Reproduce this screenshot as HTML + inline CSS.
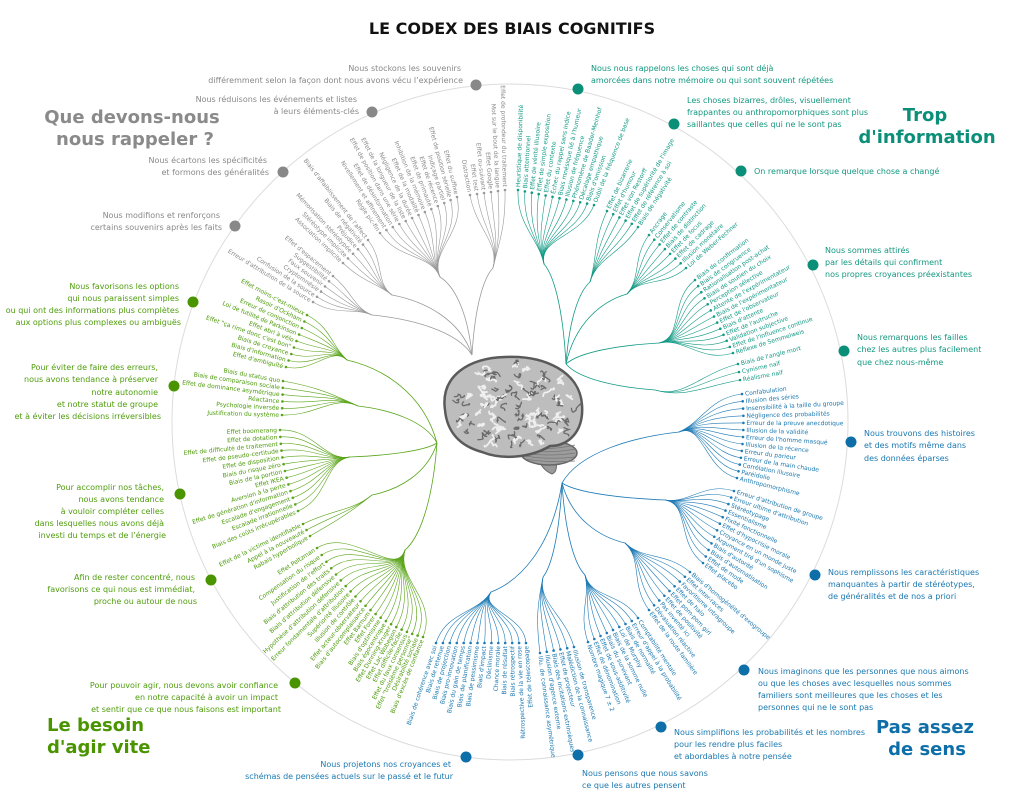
<!DOCTYPE html>
<html><head><meta charset="utf-8">
<style>
html,body{margin:0;padding:0;background:#fff;}
svg{display:block;font-family:"DejaVu Sans","Liberation Sans",sans-serif;}
.t{font-size:8px;}
.h{font-size:18px;font-weight:bold;}
</style></head>
<body>
<svg id="s" width="1024" height="808" viewBox="0 0 1024 808" xmlns="http://www.w3.org/2000/svg">
<rect width="1024" height="808" fill="#fff"/>
<text x="512" y="34" text-anchor="middle" font-size="16" font-weight="bold" fill="#111">LE CODEX DES BIAIS COGNITIFS</text>
<circle cx="510" cy="422" r="338" fill="none" stroke="#dcdcdc" stroke-width="1"/>
<g id="br"></g>
<g id="lines" fill="none" stroke-width="0.8"></g>
<g id="leaf" font-size="6"></g>

<!-- gray -->
<g fill="#888" class="t" text-anchor="end">
<text x="461" y="71">Nous stockons les souvenirs</text>
<text x="463" y="83">différemment selon la façon dont nous avons vécu l’expérience</text>
<text x="357" y="102">Nous réduisons les événements et listes</text>
<text x="359" y="114">à leurs éléments-clés</text>
<text x="267" y="163">Nous écartons les spécificités</text>
<text x="269" y="175">et formons des généralités</text>
<text x="220" y="218">Nous modifions et renforçons</text>
<text x="222" y="230">certains souvenirs après les faits</text>
</g>
<g fill="#8a8a8a" class="h" text-anchor="middle">
<text x="132" y="123">Que devons-nous</text>
<text x="135" y="145">nous rappeler ?</text>
</g>
<g fill="#888"><circle cx="476" cy="85" r="5.5"/><circle cx="372" cy="112" r="5.5"/><circle cx="283" cy="172" r="5.5"/><circle cx="235" cy="226" r="5.5"/></g>

<!-- green -->
<g fill="#4f9d0c" class="t" text-anchor="end">
<text x="179" y="289">Nous favorisons les options</text>
<text x="179" y="301">qui nous paraissent simples</text>
<text x="179" y="313">ou qui ont des informations plus complètes</text>
<text x="181" y="325">aux options plus complexes ou ambiguës</text>
<text x="158" y="370">Pour éviter de faire des erreurs,</text>
<text x="158" y="382">nous avons tendance à préserver</text>
<text x="158" y="395">notre autonomie</text>
<text x="158" y="407">et notre statut de groupe</text>
<text x="161" y="419">et à éviter les décisions irréversibles</text>
<text x="164" y="490">Pour accomplir nos tâches,</text>
<text x="164" y="502">nous avons tendance</text>
<text x="164" y="514">à vouloir compléter celles</text>
<text x="164" y="526">dans lesquelles nous avons déjà</text>
<text x="166" y="538">investi du temps et de l’énergie</text>
<text x="195" y="580">Afin de rester concentré, nous</text>
<text x="195" y="592">favorisons ce qui nous est immédiat,</text>
<text x="197" y="604">proche ou autour de nous</text>
<text x="278" y="688">Pour pouvoir agir, nous devons avoir confiance</text>
<text x="278" y="700">en notre capacité à avoir un impact</text>
<text x="281" y="712">et sentir que ce que nous faisons est important</text>
</g>
<g fill="#4a9400" class="h">
<text x="47" y="731">Le besoin</text>
<text x="47" y="753">d'agir vite</text>
</g>
<g fill="#4a9400"><circle cx="193" cy="302" r="5.5"/><circle cx="174" cy="386" r="5.5"/><circle cx="180" cy="494" r="5.5"/><circle cx="211" cy="580" r="5.5"/><circle cx="295" cy="683" r="5.5"/></g>

<!-- blue -->
<g fill="#1a78b0" class="t">
<text x="451" y="767" text-anchor="end">Nous projetons nos croyances et</text>
<text x="453" y="779" text-anchor="end">schémas de pensées actuels sur le passé et le futur</text>
<text x="582" y="776">Nous pensons que nous savons</text>
<text x="582" y="788">ce que les autres pensent</text>
<text x="674" y="735">Nous simplifions les probabilités et les nombres</text>
<text x="674" y="747">pour les rendre plus faciles</text>
<text x="674" y="759">et abordables à notre pensée</text>
<text x="758" y="674">Nous imaginons que les personnes que nous aimons</text>
<text x="758" y="686">ou que les choses avec lesquelles nous sommes</text>
<text x="758" y="698">familiers sont meilleures que les choses et les</text>
<text x="758" y="710">personnes qui ne le sont pas</text>
<text x="828" y="575">Nous remplissons les caractéristiques</text>
<text x="828" y="587">manquantes à partir de stéréotypes,</text>
<text x="828" y="599">de généralités et de nos a priori</text>
<text x="864" y="436">Nous trouvons des histoires</text>
<text x="864" y="448">et des motifs même dans</text>
<text x="864" y="461">des données éparses</text>
</g>
<g fill="#0e6fa8" class="h" text-anchor="middle">
<text x="925" y="733">Pas assez</text>
<text x="927" y="755">de sens</text>
</g>
<g fill="#0e6fa8"><circle cx="466" cy="757" r="5.5"/><circle cx="578" cy="755" r="5.5"/><circle cx="661" cy="727" r="5.5"/><circle cx="744" cy="670" r="5.5"/><circle cx="815" cy="575" r="5.5"/><circle cx="851" cy="442" r="5.5"/></g>

<!-- teal -->
<g fill="#13977f" class="t">
<text x="591" y="71">Nous nous rappelons les choses qui sont déjà</text>
<text x="591" y="83">amorcées dans notre mémoire ou qui sont souvent répétées</text>
<text x="687" y="103">Les choses bizarres, drôles, visuellement</text>
<text x="687" y="115">frappantes ou anthropomorphiques sont plus</text>
<text x="687" y="127">saillantes que celles qui ne le sont pas</text>
<text x="754" y="174">On remarque lorsque quelque chose a changé</text>
<text x="825" y="253">Nous sommes attirés</text>
<text x="825" y="265">par les détails qui confirment</text>
<text x="825" y="277">nos propres croyances préexistantes</text>
<text x="857" y="340">Nous remarquons les failles</text>
<text x="857" y="352">chez les autres plus facilement</text>
<text x="857" y="365">que chez nous-même</text>
</g>
<g fill="#0c8f78" class="h" text-anchor="middle">
<text x="925" y="121">Trop</text>
<text x="927" y="143">d'information</text>
</g>
<g fill="#0c8f78"><circle cx="578" cy="89" r="5.5"/><circle cx="674" cy="124" r="5.5"/><circle cx="741" cy="171" r="5.5"/><circle cx="813" cy="265" r="5.5"/><circle cx="844" cy="351" r="5.5"/></g>
</svg>
<script>
(function(){
var NS="http://www.w3.org/2000/svg";
function el(t,a,p,txt){var e=document.createElementNS(NS,t);for(var k in a)e.setAttribute(k,a[k]);if(txt!==undefined)e.textContent=txt;p.appendChild(e);return e;}
var CX=510,CY=422;
var GR="#9a9a9a",GN="#5aa51a",BL="#1d7ab5",TL="#139a85";
var GRT="#888",GNT="#4c9a0a",BLT="#1a78b0",TLT="#139a85";
var C=[
{c:GR,tc:GRT,s:'L',root:[472,355],hub:[493,268],a:[470,195],b:[505,190],L:["Distraction","Effet test","Effet ou-suivant","Effet Google","Mot sur le bout de la langue","Effet de profondeur du traitement"]},
{c:GR,tc:GRT,s:'L',root:[472,355],hub:[440,277],a:[457,197],b:[380,233],L:["Effet du suffixe","Effet de position sérielle","Indiçage partiel","Effet de récence","Effet de primauté","Inhibition de la mémoire","Effet de la modalité","Négligence de la durée","Effet de la longueur de la liste","Effet de position dans une série","Effet de désinformation","Nivellement et affinement","Règle pic-fin"]},
{c:GR,tc:GRT,s:'L',root:[472,355],hub:[392,295],a:[368,240],b:[343,263],L:["Biais d'affaiblissement de l'affect","Biais de négativité","Préjudice","Mémorisation stéréotypée","Stéréotype implicite","Association implicite"]},
{c:GR,tc:GRT,s:'L',root:[472,355],hub:[372,315],a:[333,276],b:[313,302],L:["Effet d'espacement","Suggestibilité","Faux souvenir","Cryptomnésie","Confusion de la source","Erreur d'attribution de la source"]},
{c:GN,tc:GNT,s:'L',root:[437,443],hub:[347,360],a:[307,315],b:[286,367],L:["Effet moins-c'est-mieux","Rasoir d'Ockham","Erreur de conjonction","Loi de futilité de Parkinson","Effet abri à vélo","Effet \"ça rime donc c'est bon\"","Biais de croyance","Biais d'information","Effet d'ambiguïté"]},
{c:GN,tc:GNT,s:'L',root:[437,443],hub:[358,406],a:[283,381],b:[282,415],L:["Biais du status quo","Biais de comparaison sociale","Effet de dominance asymétrique","Réactance","Psychologie inversée","Justification du système"]},
{c:GN,tc:GNT,s:'L',root:[437,443],hub:[350,457],a:[280,430],b:[298,511],m:[285,471],L:["Effet boomerang","Effet de dotation","Effet de difficulté de traitement","Effet de pseudo-certitude","Effet de disposition","Biais du risque zéro","Biais de la portion","Effet IKEA","Aversion à la perte","Effet de génération d'information","Escalade d'engagement","Escalade irrationnelle","Biais des coûts irrécupérables"]},
{c:GN,tc:GNT,s:'L',root:[437,443],hub:[372,495],a:[303,524],b:[310,536],L:["Effet de la victime identifiable","Appel à la nouveauté","Rabais hyperbolique"]},
{c:GN,tc:GNT,s:'L',root:[437,443],hub:[405,550],a:[317,548],b:[423,637],m:[368,608],L:["Effet Peltzman","Compensation du risque","Justification de l'effort","Biais d'attribution des traits","Biais d'attribution défensive","Hypothèse d'attribution défensive","Erreur fondamentale d'attribution","Supériorité illusoire","Illusion de contrôle","Effet acteur-observateur","Biais d'autocomplaisance","Effet Barnum","Effet Forer","Biais d'optimisme","Biais égocentrique","Effet Dunning-Kruger","Effet Lac Wobegon","Effet difficile-facile","Effet du faux consensus","Effet \"troisième personne\"","Désirabilité sociale","Biais d'excès de confiance"]},
{c:BL,tc:BLT,s:'L',root:[562,483],hub:[491,592],a:[436,643],b:[526,643],L:["Biais de cohérence avec soi","Biais de retenue","Biais de projection","Biais pro-innovation","Biais du gain de temps","Biais de planification","Biais de pessimisme","Biais d'impact","Déclinisme","Chance morale","Biais de résultat","Biais rétrospectif","Rétrospective de la vie en rose","Effet de télescopage"]},
{c:BL,tc:BLT,s:'R',root:[562,483],hub:[543,577],a:[540,653],b:[574,647],L:["Illu. de connaissance asymétrique","Illusion d'agence externe","Biais des incitations extrinsèques","Effet de projecteur","Malédiction de la connaissance","Illusion de transparence"]},
{c:BL,tc:BLT,s:'R',root:[562,483],hub:[585,575],a:[588,642],b:[638,618],L:["Nombre magique 7 ± 2","Effet de dénomination","Effet de sous-additivité","Biais du survivant","Biais de la somme nulle","Loi de Murphy","Biais de normalité","Erreur d'appel à la probabilité","Comptabilité mentale"]},
{c:BL,tc:BLT,s:'R',root:[562,483],hub:[625,543],a:[649,610],b:[690,572],L:["Effet de la route familière","Dévaluation réactive","Pas inventé ici","Effet de positivité","Effet pom-pom girl","Effet de halo","Favoritisme intragroupe","Effet inter-races","Biais d'homogénéité d'exogroupe"]},
{c:BL,tc:BLT,s:'R',root:[562,483],hub:[665,500],a:[703,563],b:[734,491],L:["Effet placebo","Effet de mode","Biais d'automatisation","Biais d'autorité","Argument tiré d'un sophisme","Croyance en un monde juste","Effet d'hypocrisie morale","Fixité fonctionnelle","Essentialisme","Stéréotypage","Erreur ultime d'attribution","Erreur d'attribution de groupe"]},
{c:BL,tc:BLT,s:'R',root:[562,483],hub:[679,432],a:[742,394],b:[737,478],m:[743,437],L:["Confabulation","Illusion des séries","Insensibilité à la taille du groupe","Négligence des probabilités","Erreur de la preuve anecdotique","Illusion de la validité","Erreur de l'homme masqué","Illusion de la récence","Erreur du parieur","Erreur de la main chaude","Corrélation illusoire","Paréidolie","Anthropomorphisme"]},
{c:TL,tc:TLT,s:'R',root:[566,364],hub:[544,264],a:[518,190],b:[594,205],L:["Heuristique de disponibilité","Biais attentionnel","Effet de vérité illusoire","Effet de simple exposition","Effet du contexte","Échec du rappel sans indice","Biais mnésique lié à l'humeur","Illusion de fréquence","Phénomène de Baader-Meinhof","Décalage empathique","Biais d'omission","Oubli de la fréquence de base"]},
{c:TL,tc:TLT,s:'R',root:[566,364],hub:[590,282],a:[607,211],b:[638,227],L:["Effet de bizarrerie","Effet d'humour","Effet von Restorff","Effet de supériorité de l'image","Effet de référence à soi","Biais de négativité"]},
{c:TL,tc:TLT,s:'R',root:[566,364],hub:[627,294],a:[649,235],b:[686,268],L:["Ancrage","Conservatisme","Effet de contraste","Biais de distinction","Effet de focus","Effet de cadrage","Illusion monétaire","Loi de Weber-Fechner"]},
{c:TL,tc:TLT,s:'R',root:[566,364],hub:[659,343],a:[695,280],b:[733,353],L:["Biais de confirmation","Biais de congruence","Rationalisation post-achat","Biais de soutien du choix","Perception sélective","Attente de l'expérimentateur","Biais de l'expérimentateur","Effet de l'observateur","Biais d'attente","Effet de l'autruche","Validation subjective","Effet de l'influence continue","Réflexe de Semmelweis"]},
{c:TL,tc:TLT,s:'R',root:[566,364],hub:[655,390],a:[738,364],b:[740,380],L:["Biais de l'angle mort","Cynisme naïf","Réalisme naïf"]}
];
var LG=document.getElementById("lines"),TG=document.getElementById("leaf");
function f(n){return n.toFixed(1);}
C.forEach(function(k){
 var r=k.root,h=k.hub,n=k.L.length;
 el("path",{d:"M"+r[0]+","+r[1]+" C"+f(r[0]+(h[0]-r[0])*0.15)+","+f(r[1]+(h[1]-r[1])*0.6)+" "+f(r[0]+(h[0]-r[0])*0.6)+","+f(r[1]+(h[1]-r[1])*0.9)+" "+h[0]+","+h[1],stroke:k.c},LG);
 var dx=h[0]-r[0],dy=h[1]-r[1],dl=Math.sqrt(dx*dx+dy*dy)||1;dx/=dl;dy/=dl;
 for(var i=0;i<n;i++){
  var t=n>1?i/(n-1):0,x,y;
  if(k.m){var a=k.a,b=k.b,m=k.m;
   x=(1-t)*(1-t)*a[0]+2*t*(1-t)*(2*m[0]-(a[0]+b[0])/2)+t*t*b[0];
   y=(1-t)*(1-t)*a[1]+2*t*(1-t)*(2*m[1]-(a[1]+b[1])/2)+t*t*b[1];
  } else {x=k.a[0]+(k.b[0]-k.a[0])*t;y=k.a[1]+(k.b[1]-k.a[1])*t;}
  var th=Math.atan2(y-CY,x-CX),ux=Math.cos(th),uy=Math.sin(th);
  var L=Math.sqrt((x-h[0])*(x-h[0])+(y-h[1])*(y-h[1]));
  el("path",{d:"M"+h[0]+","+h[1]+" C"+f(h[0]+dx*L*0.35)+","+f(h[1]+dy*L*0.35)+" "+f(x-ux*L*0.45)+","+f(y-uy*L*0.45)+" "+f(x)+","+f(y),stroke:k.c,"stroke-width":"0.6"},LG);
  el("circle",{cx:f(x),cy:f(y),r:"1.3",fill:k.c},TG);
  var deg=th*180/Math.PI,rot,anc,ox;
  if(k.s=='R'){rot=deg;anc="start";ox=3;}else{rot=deg+180;anc="end";ox=-3;}
  el("text",{transform:"translate("+f(x)+","+f(y)+") rotate("+f(rot)+")",x:ox,y:2,"text-anchor":anc,fill:k.tc},TG,k.L[i]);
 }
});
// brain
var B=document.getElementById("br");
el("path",{d:"M538,458 q4,12 14,16 q6,-2 4,-14z",fill:"#9a9a9a",stroke:"#666"},B);
el("ellipse",{cx:549,cy:453,rx:28,ry:12,fill:"#9c9c9c",stroke:"#666","stroke-width":1.5},B);
for(var s=0;s<5;s++)el("path",{d:"M525,"+(447+s*3)+" q24,4 50,"+(-2+s)},B).setAttribute("style","fill:none;stroke:#777;stroke-width:0.8");
el("path",{d:"M445,410 C440,375 470,358 505,357 C545,355 580,372 582,405 C584,432 568,446 550,446 C530,458 502,460 482,452 C460,446 447,432 445,410Z",fill:"#bdbdbd",stroke:"#5a5a5a","stroke-width":2.5},B);
var seed=11;function rnd(){seed=(seed*9301+49297)%233280;return seed/233280;}
for(var j=0;j<110;j++){
 var px=452+rnd()*124,py=362+rnd()*92;
 var ex=(px-513)/66,ey=(py-405)/46;if(ex*ex+ey*ey>0.92){j--;continue;}
 var d="M"+f(px)+","+f(py);
 for(var q=0;q<3;q++){px+=rnd()*10-5;py+=rnd()*8-4;d+=" Q"+f(px+rnd()*7-3.5)+","+f(py+rnd()*7-3.5)+" "+f(px)+","+f(py);}
 el("path",{d:d,fill:"none",stroke:j%2?"#6a6a6a":"#efefef","stroke-width":j%2?1.3:1.8,"stroke-linecap":"round"},B);
}
})();
</script>
</body></html>
